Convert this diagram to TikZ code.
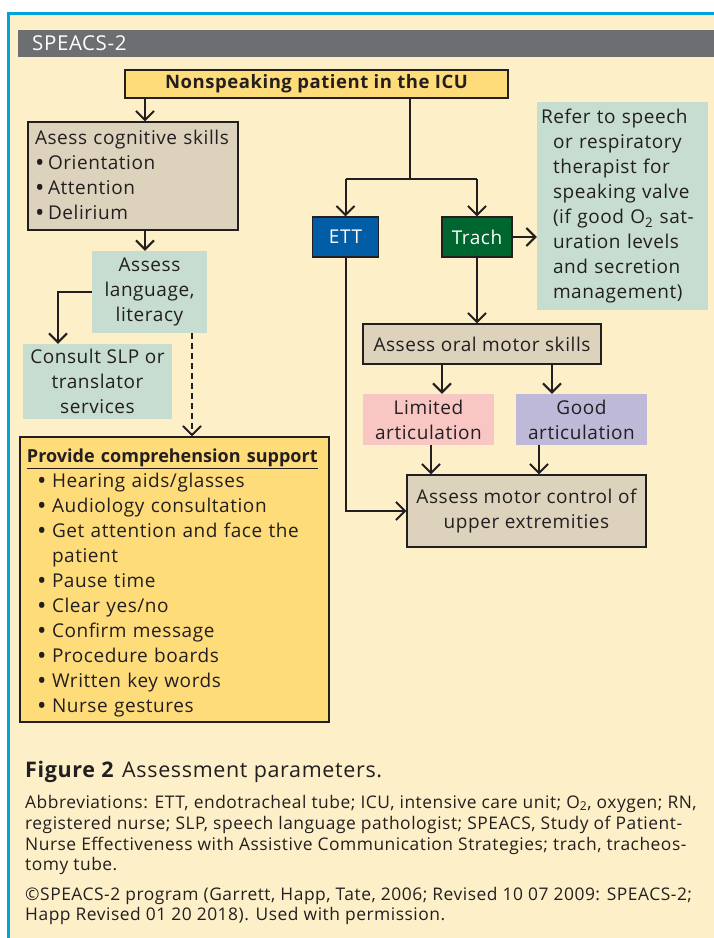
\documentclass[tikz,border=0pt]{standalone}
\usepackage{fontspec}
\setmainfont{Open Sans}[LetterSpace=3]
\usetikzlibrary{arrows.meta}

\definecolor{cream}{HTML}{FDEFC8}
\definecolor{frameblue}{HTML}{00A3DC}
\definecolor{headgray}{HTML}{6D6E71}
\definecolor{boxyellow}{HTML}{FFDC7A}
\definecolor{boxtan}{HTML}{DDD3BD}
\definecolor{boxteal}{HTML}{C7DDD0}
\definecolor{boxpink}{HTML}{F8C7C3}
\definecolor{boxlilac}{HTML}{BEB9D9}
\definecolor{ettblue}{HTML}{005DA6}
\definecolor{trachgreen}{HTML}{00662F}
\definecolor{ink}{HTML}{231F20}

\newcommand{\boxfont}{\fontsize{19}{25}\selectfont}
\newcommand{\capfont}{\fontsize{17.4}{21}\selectfont}
\newcommand{\bigdot}{\raisebox{-1.8pt}{\fontsize{25}{25}\selectfont\textbullet}}
\newcommand{\blt}{\makebox[13pt][l]{\bigdot}}
\newcommand{\itm}{\hspace*{10pt}\makebox[15pt][l]{\bigdot}}
\newcommand{\cnt}{\hspace*{25pt}}

\begin{document}
\begin{tikzpicture}[x=1pt, y=-1pt,
  box/.style={draw=ink, line width=1.2pt, inner sep=0pt, text=ink, font=\boxfont},
  flat/.style={inner sep=0pt, text=ink, font=\boxfont},
  tube/.style={box, text=white, minimum height=40pt},
  link/.style={draw=ink, line width=2pt, -{Straight Barb[length=9pt,width=18pt]}},
  capline/.style={anchor=base west, inner sep=0pt, text=ink, font=\capfont}]

  % Page, frame and header bar
  \useasboundingbox (0,0) rectangle (714,938);
  \fill[white] (0,0) rectangle (714,938);
  \fill[cream] (8,13) rectangle (714,938);
  \draw[frameblue, line width=3pt] (8,938) -- (8,13) -- (714,13);
  \fill[headgray] (18,30) rectangle (714,57);
  \node[anchor=west, inner sep=0pt, text=white, font=\fontsize{20.5}{22}\selectfont] (head) at (32,43.5) {SPEACS-2};

  % Left branch
  \node[box, fill=boxyellow, minimum width=383pt, minimum height=28pt, font=\fontsize{18.5}{25}\selectfont\bfseries] (top) at (316.5,84) {Nonspeaking patient in the ICU};
  \node[box, fill=boxtan, minimum width=210pt, minimum height=108pt, text width=196pt, align=left] (cog) at (133,176)
    {Asess cognitive skills\\\blt Orientation\\\blt Attention\\\blt Delirium};
  \node[flat, fill=boxteal, minimum width=115pt, minimum height=82pt, align=center] (lang) at (149.5,292) {Assess\\language,\\literacy};
  \node[flat, fill=boxteal, minimum width=149pt, minimum height=75pt, align=center] (consult) at (97.5,381.5) {Consult SLP or\\translator\\services};
  \node[box, fill=boxyellow, minimum width=309pt, minimum height=285pt, text width=295pt, align=left] (support) at (174.5,579.5)
    {\rule{0pt}{20pt}\underline{\addfontfeatures{LetterSpace=0}\fontsize{18}{25}\selectfont\bfseries Provide comprehension support}\\
     \itm Hearing aids/glasses\\
     \itm Audiology consultation\\
     \itm Get attention and face the\\
     \cnt patient\\
     \itm Pause time\\
     \itm Clear yes/no\\
     \itm Confirm message\\
     \itm Procedure boards\\
     \itm Written key words\\
     \itm Nurse gestures};

  % Right branch
  \node[tube, fill=ettblue, minimum width=66pt] (ett) at (345.5,237) {ETT};
  \node[tube, fill=trachgreen, minimum width=70pt] (trach) at (477,237) {Trach};
  \node[flat, fill=boxteal, minimum width=171pt, minimum height=208pt, text width=163pt, align=left] (refer) at (622.5,206)
    {Refer to speech\\
     \hspace*{12pt}or respiratory\\
     \hspace*{12pt}therapist for\\
     \hspace*{12pt}speaking valve\\
     \hspace*{12pt}(if good O\textsubscript{2} sat-\\
     \hspace*{12pt}uration levels\\
     \hspace*{12pt}and secretion\\
     \hspace*{12pt}management)};
  \node[box, fill=boxtan, minimum width=238pt, minimum height=40pt] (oral) at (482,344) {Assess oral motor skills};
  \node[flat, fill=boxpink, minimum width=131pt, minimum height=51pt, align=center] (limited) at (428.5,419.5) {Limited\\articulation};
  \node[flat, fill=boxlilac, minimum width=131pt, minimum height=51pt, align=center] (good) at (581.5,419.5) {Good\\articulation};
  \node[box, fill=boxtan, minimum width=239pt, minimum height=72pt, align=center] (motor) at (526.5,511) {Assess motor control of\\upper extremities};

  % Connectors
  \coordinate (split) at (410,179);
  \draw[link] (145,0 |- top.south) -- (145,0 |- cog.north);
  \draw[draw=ink, line width=2pt] (split |- top.south) -- (split);
  \draw[draw=ink, line width=2pt] (ett.north |- split) -- (trach.north |- split);
  \draw[link] (ett.north |- split) -- (ett.north);
  \draw[link] (trach.north |- split) -- (trach.north);
  \draw[link] (145,0 |- cog.south) -- (145,0 |- lang.north);
  \draw[link] (lang.west) -| (58,0 |- consult.north);
  \draw[link, dash pattern=on 6pt off 4pt] (192,0 |- lang.south) -- (192,0 |- support.north);
  \draw[link] (trach.east) -- (refer.west |- trach.east);
  \draw[link] (trach.south) -- (trach.south |- oral.north);
  \draw[link] (442,0 |- oral.south) -- (442,0 |- limited.north);
  \draw[link] (552,0 |- oral.south) -- (552,0 |- good.north);
  \draw[link] (431,0 |- limited.south) -- (431,0 |- motor.north);
  \draw[link] (539,0 |- good.south) -- (539,0 |- motor.north);
  \draw[link] (ett.south) |- (motor.west);

  % Caption
  \node[anchor=base west, inner sep=0pt, text=ink, font=\fontsize{21.5}{24}\selectfont] (fig) at (25,777) {\textbf{Figure 2}\hspace{8pt}Assessment parameters.};
  \node[capline] (cap1) at (25,808) {Abbreviations: ETT, endotracheal tube; ICU, intensive care unit; O\textsubscript{2}, oxygen; RN,};
  \node[capline] (cap2) at (25,829) {registered nurse; SLP, speech language pathologist; SPEACS, Study of Patient-};
  \node[capline] (cap3) at (25,850) {Nurse Effectiveness with Assistive Communication Strategies; trach, tracheos-};
  \node[capline] (cap4) at (25,870) {tomy tube.};
  \node[capline] (cap5) at (25,900) {\textcopyright SPEACS-2 program (Garrett, Happ, Tate, 2006; Revised 10 07 2009: SPEACS-2;};
  \node[capline] (cap6) at (25,920) {Happ Revised 01 20 2018). Used with permission.};
\end{tikzpicture}
\end{document}
